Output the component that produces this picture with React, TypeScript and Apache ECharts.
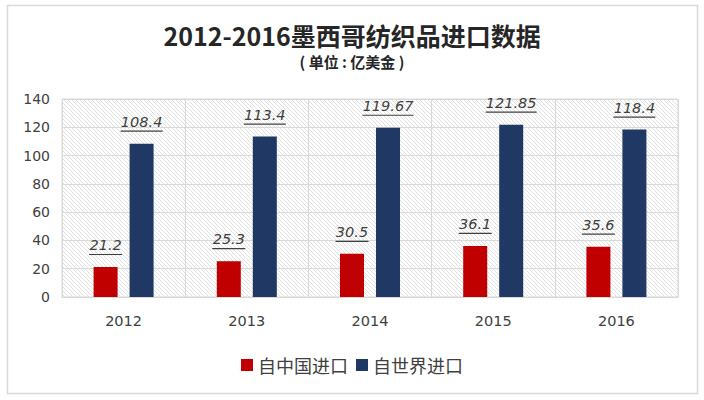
import React, { useEffect, useRef } from "react";
import * as echarts from "echarts";

const years = ["2012", "2013", "2014", "2015", "2016"];
const fromChina = [21.2, 25.3, 30.5, 36.1, 35.6];
const fromWorld = [108.4, 113.4, 119.67, 121.85, 118.4];
const seriesNames = ["自中国进口", "自世界进口"];
const titleText = "2012-2016墨西哥纺织品进口数据";
const subTitleText = "( 单位 : 亿美金 )";

const RED = "#c00000";
const BLUE = "#203864";
const TEXT = "#404040";
const GRID_LINE = "#d9d9d9";
const LABEL_FONT = "DejaVu Sans";
const LABEL_SIZE = 14.5;

const hatchSvg =
  "<svg xmlns='http://www.w3.org/2000/svg' width='4' height='4'>" +
  "<path d='M-1,-1 L5,5 M-1,3 L1,5 M3,-1 L5,1' stroke='#dedede' stroke-width='0.9'/></svg>";
const hatchUrl = "data:image/svg+xml;utf8," + encodeURIComponent(hatchSvg);

function measure(text: string): number {
  const c = document.createElement("canvas");
  const ctx = c.getContext("2d");
  if (!ctx) return text.length * 9;
  ctx.font = `italic ${LABEL_SIZE}px "${LABEL_FONT}"`;
  return Math.ceil(ctx.measureText(text).width);
}

function labeled(values: number[]) {
  return values.map((v) => {
    const s = String(v);
    return {
      value: v,
      label: {
        show: true,
        position: "top",
        distance: 11,
        formatter: "{v|" + s + "}\n{u|}",
        rich: {
          v: {
            fontFamily: LABEL_FONT,
            fontSize: LABEL_SIZE,
            fontStyle: "italic",
            color: TEXT,
            lineHeight: 16,
          },
          u: {
            width: measure(s),
            height: 1.2,
            lineHeight: 3,
            backgroundColor: TEXT,
          },
        },
      },
    };
  });
}

export default function App() {
  const ref = useRef<HTMLDivElement>(null);
  useEffect(() => {
    if (!ref.current) return;
    const chart = echarts.init(ref.current, undefined, { renderer: "svg" });
    chart.setOption({
      animation: false,
      backgroundColor: "#ffffff",
      title: [
        {
          text: titleText,
          left: "center",
          top: 17,
          textStyle: {
            fontFamily: "Noto Sans CJK SC",
            fontWeight: "bold",
            fontSize: 25,
            color: "#262626",
          },
        },
        {
          text: subTitleText,
          left: "center",
          top: 49,
          textStyle: {
            fontFamily: "Noto Sans CJK SC",
            fontWeight: "bold",
            fontSize: 15,
            color: "#262626",
          },
        },
      ],
      graphic: [
        {
          type: "rect",
          shape: { x: 7.5, y: 5.5, width: 690, height: 388 },
          style: { fill: "none", stroke: "#d9d9d9", lineWidth: 1.5 },
          silent: true,
          z: -1,
        },
      ],
      legend: {
        data: seriesNames,
        left: "center",
        top: 351,
        icon: "rect",
        itemWidth: 12,
        itemHeight: 12,
        itemGap: 8,
        textStyle: {
          fontFamily: "Noto Sans CJK SC",
          fontSize: 18,
          color: TEXT,
        },
      },
      grid: {
        left: 62,
        right: 26,
        top: 99,
        bottom: 103,
        show: true,
        borderColor: GRID_LINE,
        borderWidth: 1,
        backgroundColor: {
          image: hatchUrl,
          repeat: "repeat",
          imageWidth: 4,
          imageHeight: 4,
        },
      },
      xAxis: {
        type: "category",
        data: years,
        axisLine: { show: true, lineStyle: { color: GRID_LINE, width: 1 } },
        axisTick: { show: false },
        splitLine: { show: true, lineStyle: { color: GRID_LINE, width: 1 } },
        axisLabel: {
          margin: 16,
          fontFamily: LABEL_FONT,
          fontSize: 14.5,
          color: TEXT,
        },
      },
      yAxis: {
        type: "value",
        min: 0,
        max: 140,
        interval: 20,
        axisLine: { show: false },
        axisTick: { show: false },
        splitLine: { show: true, lineStyle: { color: GRID_LINE, width: 1 } },
        axisLabel: {
          margin: 12,
          fontFamily: LABEL_FONT,
          fontSize: 14,
          color: TEXT,
        },
      },
      series: [
        {
          name: seriesNames[0],
          type: "bar",
          barWidth: 24,
          barGap: "50%",
          itemStyle: { color: RED },
          data: labeled(fromChina),
        },
        {
          name: seriesNames[1],
          type: "bar",
          barWidth: 24,
          barGap: "50%",
          itemStyle: { color: BLUE },
          data: labeled(fromWorld),
        },
      ],
    });
    return () => chart.dispose();
  }, []);
  return (
    <div
      ref={ref}
      style={{
        position: "fixed",
        left: 0,
        top: 0,
        width: 704,
        height: 400,
        background: "#ffffff",
      }}
    />
  );
}
